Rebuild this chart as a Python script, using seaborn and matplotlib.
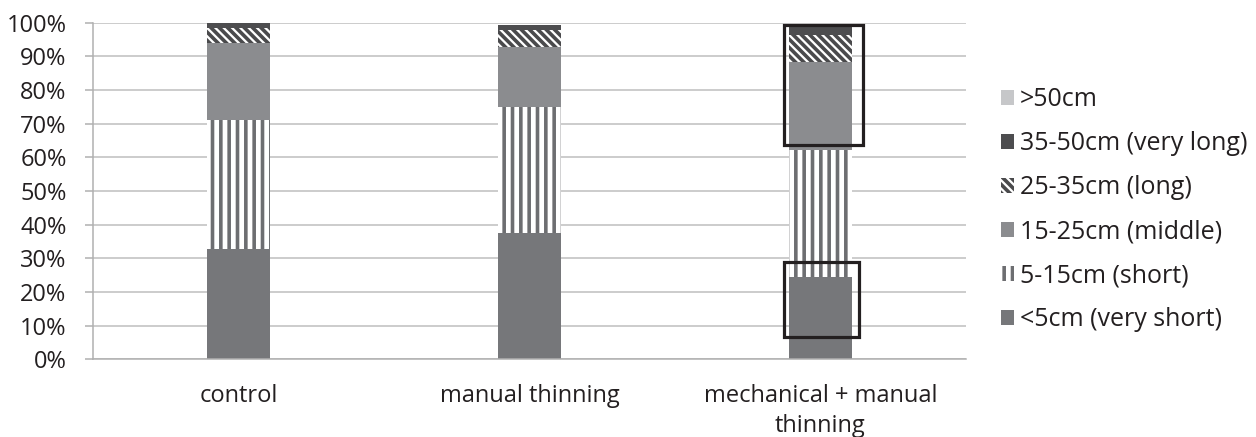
import matplotlib
matplotlib.use("Agg")
import matplotlib.pyplot as plt
from matplotlib.patches import Patch, Rectangle
from matplotlib.ticker import FixedLocator, PercentFormatter
import numpy as np
import seaborn as sns

# Share (%) of each length class per treatment
treatments = ["control", "manual thinning", "mechanical + manual\nthinning"]
lt5 = [32.7, 37.4, 24.5]
s5_15 = [38.3, 37.6, 37.6]
s15_25 = [22.8, 17.8, 26.3]
s25_35 = [4.7, 5.0, 7.9]
s35_50 = [1.5, 1.5, 3.3]
gt50 = [0.0, 0.0, 0.0]

classes = [">50cm", "35-50cm (very long)", "25-35cm (long)",
           "15-25cm (middle)", "5-15cm (short)", "<5cm (very short)"]
layers = [gt50, s35_50, s25_35, s15_25, s5_15, lt5]  # top to bottom

sns.set_theme(style="white")
plt.rcParams["font.family"] = ["Open Sans", "DejaVu Sans"]
plt.rcParams["hatch.linewidth"] = 2.6

# face, edge (hatch colour), hatch for each class, top to bottom
styles = [
    ("#c6c7c9", "#c6c7c9", None),
    ("#4d4d4f", "#4d4d4f", None),
    ("white", "#4a4a4c", "\\\\\\\\"),
    ("#8b8c8f", "#8b8c8f", None),
    ("white", "#6d6e71", "||"),
    ("#76777a", "#76777a", None),
]

fig = plt.figure(figsize=(12.56, 4.37), dpi=100)
ax = fig.add_axes([0.074, 0.178, 0.695, 0.7705])

# Stacked bars drawn as cumulative totals, tallest first, each covering the one below
cum = np.zeros(len(treatments))
cums = []
for vals in reversed(layers):
    cum = cum + np.array(vals)
    cums.append(cum.copy())
cums = list(reversed(cums))  # aligned with layers (top to bottom)

for tot, (fc, ec, h) in zip(cums, styles):
    sns.barplot(x=treatments, y=tot, ax=ax, color=fc, saturation=1,
                width=0.215, edgecolor=ec, linewidth=0, hatch=h,
                errorbar=None)

# Highlight boxes on the mechanical + manual thinning bar
box_kw = dict(fill=False, edgecolor="#231f20", linewidth=2.3, zorder=5, clip_on=False)
ax.add_patch(Rectangle((2 - 0.126, 63.6), 0.271, 99.3 - 63.6, **box_kw))
ax.add_patch(Rectangle((2 - 0.126, 6.6), 0.258, 28.9 - 6.6, **box_kw))

ax.set_xlim(-0.5, 2.5)
ax.set_ylim(0, 100)
ax.yaxis.set_major_locator(FixedLocator(np.arange(0, 101, 10)))
ax.yaxis.set_major_formatter(PercentFormatter(decimals=0))
ax.grid(axis="y", color="#bfbfbf", linewidth=1.1)
ax.set_axisbelow(True)

for s in ["top", "right"]:
    ax.spines[s].set_visible(False)
ax.spines["left"].set_color("#b0b0b0")
ax.spines["bottom"].set_color("#b0b0b0")
ax.spines["left"].set_linewidth(1.1)
ax.spines["bottom"].set_linewidth(1.1)

ax.xaxis.set_minor_locator(FixedLocator([-0.5, 0.5, 1.5, 2.5]))
ax.tick_params(axis="x", which="major", length=0, pad=18, labelsize=17, labelcolor="#231f20")
ax.tick_params(axis="x", which="minor", length=6, width=1.1, color="#b0b0b0", direction="out")
ax.tick_params(axis="y", length=6, width=1.1, color="#b0b0b0", direction="out",
               labelsize=17, labelcolor="#231f20", left=True, pad=13)
for t in ax.get_xticklabels():
    t.set_linespacing(1.32)
ax.set_xlabel("")
ax.set_ylabel("")

handles = [Patch(facecolor=fc, edgecolor=ec, linewidth=0, hatch=h, label=lab)
           for (fc, ec, h), lab in zip(styles, classes)]
fig.legend(handles=handles, loc="upper left", bbox_to_anchor=(0.797, 0.80),
           frameon=False, fontsize=18, labelspacing=0.76, handlelength=0.5,
           handleheight=0.5, handletextpad=0.25, labelcolor="#231f20",
           borderaxespad=0, borderpad=0)

fig.savefig("out.png", dpi=100, facecolor="white")
